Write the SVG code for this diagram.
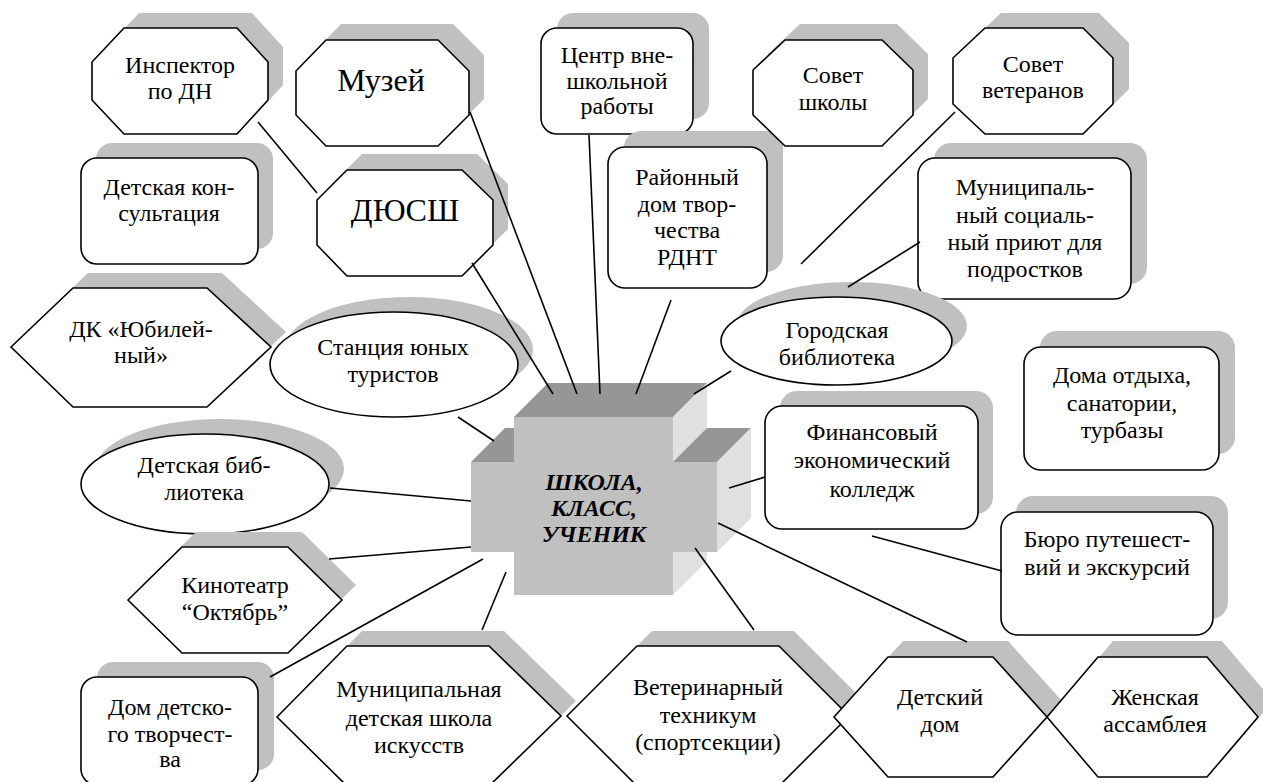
<svg xmlns="http://www.w3.org/2000/svg" width="1263" height="782" viewBox="0 0 1263 782">
<style>
.sh{fill:#c0c0c0}
.nd{fill:#fff;stroke:#000;stroke-width:1.6}
.t{font-size:24px;text-anchor:middle;fill:#000}
.big{font-size:32px}
.ctr{font-weight:bold;font-style:italic}
#connectors line{stroke:#000;stroke-width:1.6}
</style>
<rect width="1263" height="782" fill="#fff"/>
<g font-family="Liberation Serif, Times New Roman, serif">

<g id="n-inspector">
<polygon class="sh" transform="translate(15,-15)" points="124,28 237,28 268,62 268,100 237,134 124,134 92,100 92,62"/>
<polygon class="nd" points="124,28 237,28 268,62 268,100 237,134 124,134 92,100 92,62"/>
<text class="t" x="180" y="73">Инспектор</text>
<text class="t" x="180" y="99">по ДН</text>
</g>

<g id="n-museum">
<polygon class="sh" transform="translate(15,-16)" points="326,40 438,40 469,71 469,115 438,146 326,146 296,115 296,71"/>
<polygon class="nd" points="326,40 438,40 469,71 469,115 438,146 326,146 296,115 296,71"/>
<text class="t big" x="381" y="91">Музей</text>
</g>

<g id="n-consult">
<rect class="sh" x="96" y="143" width="177" height="106" rx="16"/>
<rect class="nd" x="81" y="158" width="177" height="106" rx="16"/>
<text class="t" x="169" y="195">Детская кон-</text>
<text class="t" x="169" y="221">сультация</text>
</g>

<g id="n-dyussh">
<polygon class="sh" transform="translate(15,-16)" points="347,170 462,170 493,200 493,245 462,276 347,276 317,245 317,200"/>
<polygon class="nd" points="347,170 462,170 493,200 493,245 462,276 347,276 317,245 317,200"/>
<text class="t big" x="405" y="221">ДЮСШ</text>
</g>

<g id="n-center">
<rect class="sh" x="557" y="13" width="152" height="106" rx="16"/>
<rect class="nd" x="541" y="28" width="152" height="106" rx="16"/>
<text class="t" x="617" y="63">Центр вне-</text>
<text class="t" x="617" y="89">школьной</text>
<text class="t" x="617" y="114">работы</text>
</g>

<g id="n-rdnt">
<rect class="sh" x="624" y="131" width="159" height="141" rx="17"/>
<rect class="nd" x="608" y="147" width="159" height="141" rx="17"/>
<text class="t" x="687" y="185">Районный</text>
<text class="t" x="687" y="212">дом твор-</text>
<text class="t" x="687" y="238">чества</text>
<text class="t" x="687" y="265">РДНТ</text>
</g>

<g id="n-sovet-shkoly">
<polygon class="sh" transform="translate(15,-16)" points="785,40 882,40 913,70 913,115 882,146 785,146 753,115 753,70"/>
<polygon class="nd" points="785,40 882,40 913,70 913,115 882,146 785,146 753,115 753,70"/>
<text class="t" x="833" y="83">Совет</text>
<text class="t" x="833" y="110">школы</text>
</g>

<g id="n-sovet-veteranov">
<polygon class="sh" transform="translate(16,-15)" points="985,28 1083,28 1113,58 1113,104 1083,134 985,134 953,104 953,58"/>
<polygon class="nd" points="985,28 1083,28 1113,58 1113,104 1083,134 985,134 953,104 953,58"/>
<text class="t" x="1033" y="72">Совет</text>
<text class="t" x="1033" y="98">ветеранов</text>
</g>

<g id="n-priyut">
<rect class="sh" x="934" y="143" width="213" height="141" rx="17"/>
<rect class="nd" x="918" y="158" width="213" height="141" rx="17"/>
<text class="t" x="1025" y="195">Муниципаль-</text>
<text class="t" x="1025" y="223">ный социаль-</text>
<text class="t" x="1025" y="250">ный приют для</text>
<text class="t" x="1025" y="277">подростков</text>
</g>

<g id="n-gorod-bibl">
<ellipse class="sh" cx="851.5" cy="326" rx="115.5" ry="44"/>
<ellipse class="nd" cx="836.5" cy="341" rx="115.5" ry="44"/>
<text class="t" x="837" y="338">Городская</text>
<text class="t" x="837" y="365">библиотека</text>
</g>

<g id="n-dk">
<polygon class="sh" transform="translate(15,-15)" points="11,347 73,288 207,288 271,347 207,407 73,407"/>
<polygon class="nd" points="11,347 73,288 207,288 271,347 207,407 73,407"/>
<text class="t" x="141" y="337">ДК «Юбилей-</text>
<text class="t" x="141" y="363">ный»</text>
</g>

<g id="n-stanciya">
<ellipse class="sh" cx="409" cy="349.5" rx="124" ry="52.5"/>
<ellipse class="nd" cx="394" cy="364.5" rx="124" ry="52.5"/>
<text class="t" x="393" y="355">Станция юных</text>
<text class="t" x="393" y="382">туристов</text>
</g>

<g id="n-doma-otdyha">
<rect class="sh" x="1040" y="331" width="195" height="123" rx="17"/>
<rect class="nd" x="1024" y="347" width="195" height="123" rx="17"/>
<text class="t" x="1122" y="383">Дома отдыха,</text>
<text class="t" x="1122" y="411">санатории,</text>
<text class="t" x="1122" y="438">турбазы</text>
</g>

<g id="n-det-bibl">
<ellipse class="sh" cx="220" cy="469" rx="124" ry="50"/>
<ellipse class="nd" cx="205" cy="484" rx="124" ry="50"/>
<text class="t" x="204" y="473">Детская биб-</text>
<text class="t" x="204" y="500">лиотека</text>
</g>

<g id="n-finans">
<rect class="sh" x="780" y="391" width="213" height="123" rx="17"/>
<rect class="nd" x="765" y="406" width="213" height="123" rx="17"/>
<text class="t" x="872" y="440">Финансовый</text>
<text class="t" x="872" y="468">экономический</text>
<text class="t" x="872" y="497">колледж</text>
</g>

<g id="n-buro">
<rect class="sh" x="1016" y="496" width="212" height="123" rx="17"/>
<rect class="nd" x="1001" y="512" width="212" height="123" rx="17"/>
<text class="t" x="1107" y="547">Бюро путешест-</text>
<text class="t" x="1107" y="575">вий и экскурсий</text>
</g>

<g id="n-kino">
<polygon class="sh" transform="translate(14,-15)" points="128,600 182,547 288,547 342,600 288,653 182,653"/>
<polygon class="nd" points="128,600 182,547 288,547 342,600 288,653 182,653"/>
<text class="t" x="235" y="593">Кинотеатр</text>
<text class="t" x="235" y="620">“Октябрь”</text>
</g>

<g id="n-ddt">
<rect class="sh" x="97" y="662" width="177" height="108" rx="16"/>
<rect class="nd" x="81" y="677" width="177" height="108" rx="16"/>
<text class="t" x="170" y="715">Дом детско-</text>
<text class="t" x="170" y="742">го творчест-</text>
<text class="t" x="170" y="767">ва</text>
</g>

<g id="n-shkola-iskusstv">
<polygon class="sh" transform="translate(15,-15)" points="277,717 347,646 489,646 561,716 489,786 347,786"/>
<polygon class="nd" points="277,717 347,646 489,646 561,716 489,786 347,786"/>
<text class="t" x="419" y="697">Муниципальная</text>
<text class="t" x="419" y="726">детская школа</text>
<text class="t" x="419" y="753">искусств</text>
</g>

<g id="n-veterinar">
<polygon class="sh" transform="translate(15,-15)" points="567,716 637,646 779,646 849,716 779,786 637,786"/>
<polygon class="nd" points="567,716 637,646 779,646 849,716 779,786 637,786"/>
<text class="t" x="708" y="695">Ветеринарный</text>
<text class="t" x="708" y="723">техникум</text>
<text class="t" x="708" y="750">(спортсекции)</text>
</g>

<g id="n-det-dom">
<polygon class="sh" transform="translate(15,-16)" points="834,717 888,657 993,657 1047,717 993,777 888,777"/>
<polygon class="nd" points="834,717 888,657 993,657 1047,717 993,777 888,777"/>
<text class="t" x="940" y="705">Детский</text>
<text class="t" x="940" y="732">дом</text>
</g>

<g id="n-zhenskaya">
<polygon class="sh" transform="translate(15,-16)" points="1047,717 1098,657 1207,657 1258,717 1207,777 1098,777"/>
<polygon class="nd" points="1047,717 1098,657 1207,657 1258,717 1207,777 1098,777"/>
<text class="t" x="1155" y="705">Женская</text>
<text class="t" x="1155" y="732">ассамблея</text>
</g>

<g id="n-school">
<polygon fill="#969696" points="514,417 548,383 707,383 673,417"/>
<polygon fill="#e0e0e0" points="673,417 707,383 707,561 673,595"/>
<polygon fill="#969696" points="471,462 505,428 548,428 514,462"/>
<polygon fill="#969696" points="673,462 707,428 751,428 717,462"/>
<polygon fill="#e0e0e0" points="717,462 751,428 751,518 717,552"/>
<rect fill="#c0c0c0" x="471" y="462" width="246" height="90"/>
<rect fill="#c0c0c0" x="514" y="417" width="159" height="178"/>
<text class="t ctr" x="594" y="490">ШКОЛА,</text>
<text class="t ctr" x="594" y="516">КЛАСС,</text>
<text class="t ctr" x="594" y="542">УЧЕНИК</text>
</g>

</g>
<g id="connectors">
<line x1="258" y1="122" x2="317" y2="193"/>
<line x1="470" y1="112" x2="577" y2="394"/>
<line x1="472" y1="263" x2="553" y2="394"/>
<line x1="589" y1="135" x2="600" y2="394"/>
<line x1="671" y1="300" x2="636" y2="394"/>
<line x1="955" y1="112" x2="801" y2="264"/>
<line x1="920" y1="242" x2="848" y2="287"/>
<line x1="731" y1="371" x2="694" y2="394"/>
<line x1="458" y1="417" x2="494" y2="441"/>
<line x1="330" y1="488" x2="471" y2="501"/>
<line x1="329" y1="559" x2="471" y2="547"/>
<line x1="270" y1="677" x2="483" y2="559"/>
<line x1="482" y1="630" x2="506" y2="572"/>
<line x1="754" y1="630" x2="695" y2="548"/>
<line x1="967" y1="642" x2="718" y2="523"/>
<line x1="765" y1="477" x2="729" y2="488"/>
<line x1="872" y1="536" x2="1002" y2="571"/>
</g>
</svg>
